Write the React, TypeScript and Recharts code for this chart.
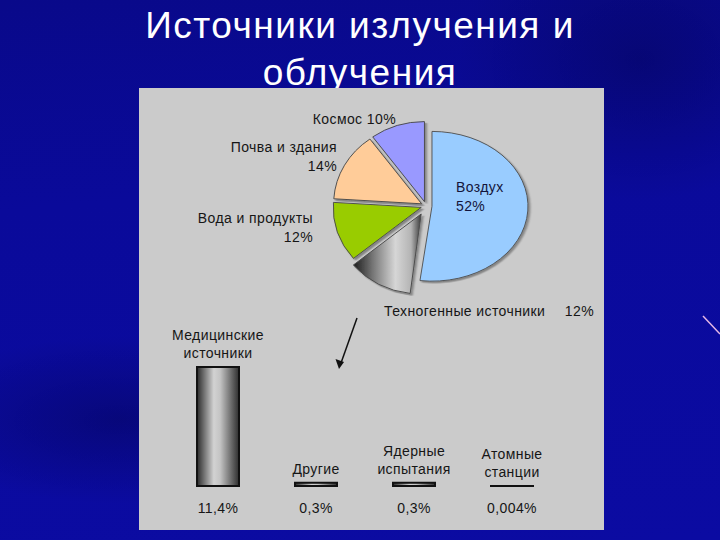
import { Bar, BarChart, Cell, LabelList, Pie, PieChart, Sector, Tooltip, XAxis, YAxis } from "recharts";

// pie: sources of exposure (clockwise from 12 o'clock)
const pieNames = ["Воздух", "Техногенные источники", "Вода и продукты", "Почва и здания", "Космос"];
const pieValues = [52, 12, 12, 14, 10];
const pieColors = ["#99ccff", "url(#techno)", "#99cc00", "#ffcc99", "#9999ff"];

// bars: breakdown of technogenic sources
const barNames = ["Медицинские\nисточники", "Другие", "Ядерные\nиспытания", "Атомные\nстанции"];
const barValues = [11.4, 0.3, 0.3, 0.004];
const barValueLabels = ["11,4%", "0,3%", "0,3%", "0,004%"];

const pieData = pieNames.map((name, i) => ({ name, value: pieValues[i] }));
const barData = barNames.map((name, i) => ({ name, value: barValues[i], label: barValueLabels[i] }));

const FONT = '"Liberation Sans", Arial, sans-serif';
const INK = "#161616";

// explode distance, vertical squash and radius scale per slice
const PULL = [6, 10, 5, 5, 5];
const SQUASH = [0.78, 0.91, 0.91, 0.91, 0.91];
const GROW = [96 / 88, 1, 1, 1, 1];

function sliceIndex(props: any) {
  const n = props?.payload?.name ?? props?.name;
  const i = pieNames.indexOf(n);
  return i < 0 ? 0 : i;
}

function Slice(props: any) {
  const { cx, cy, outerRadius, startAngle, endAngle, fill } = props;
  const i = sliceIndex(props);
  const mid = ((startAngle + endAngle) / 2) * (Math.PI / 180);
  const dx = PULL[i] * Math.cos(mid);
  const dy = -PULL[i] * Math.sin(mid);
  const s = SQUASH[i];
  return (
    <g transform={`translate(0 ${cy * (1 - s)}) scale(1 ${s})`} filter="url(#sliceShadow)">
      <Sector
        cx={cx + dx}
        cy={cy + dy}
        innerRadius={0}
        outerRadius={outerRadius * GROW[i]}
        startAngle={startAngle}
        endAngle={endAngle}
        fill={fill}
        stroke="#4a4a4a"
        strokeWidth={1}
      />
    </g>
  );
}

function PieLabel(props: any) {
  const { cx, cy, value } = props;
  const i = sliceIndex(props);
  const name = pieNames[i];
  const pct = `${value}%`;
  const common = { fontFamily: FONT, fontSize: 14, fill: INK, letterSpacing: 0.4 };
  if (i === 0)
    return (
      <text x={cx + 30} y={cy - 14} textAnchor="start" {...common} fill="#14143a">
        <tspan x={cx + 30}>{name}</tspan>
        <tspan x={cx + 30} dy={19}>{pct}</tspan>
      </text>
    );
  if (i === 1)
    return (
      <g>
        <text x={cx - 42} y={cy + 110} textAnchor="start" {...common}>{name}</text>
        <text x={cx + 168} y={cy + 110} textAnchor="end" {...common}>{pct}</text>
      </g>
    );
  if (i === 4)
    return (
      <text x={cx - 30} y={cy - 82} textAnchor="end" {...common}>{`${name} ${pct}`}</text>
    );
  const x = i === 2 ? cx - 113 : cx - 89;
  const y = i === 2 ? cy + 17 : cy - 54;
  return (
    <text x={x} y={y} textAnchor="end" {...common}>
      <tspan x={x}>{name}</tspan>
      <tspan x={x} dy={19}>{pct}</tspan>
    </text>
  );
}

function BarName(props: any) {
  const { x, y, width, value } = props;
  const lines = String(value).split("\n");
  return (
    <text textAnchor="middle" fontFamily={FONT} fontSize={14} fill={INK} letterSpacing={0.4}>
      {lines.map((l, k) => (
        <tspan key={k} x={x + width / 2} y={y - 9 - 18 * (lines.length - 1 - k)}>
          {l}
        </tspan>
      ))}
    </text>
  );
}

function ValueTick(props: any) {
  const { x, y, index } = props;
  return (
    <text x={x} y={y + 19} textAnchor="middle" fontFamily={FONT} fontSize={14} fill={INK} letterSpacing={0.4}>
      {barValueLabels[index]}
    </text>
  );
}

export default function App() {
  return (
    <div
      style={{
        position: "absolute",
        left: 0,
        top: 0,
        width: 720,
        height: 540,
        overflow: "hidden",
        background:
          "radial-gradient(ellipse 300px 120px at 120px 420px, rgba(0,0,40,0.3), rgba(0,0,40,0) 70%), radial-gradient(ellipse 260px 200px at 640px 60px, rgba(0,0,50,0.3), rgba(0,0,50,0) 70%), linear-gradient(175deg, #09098a 0%, #0a0a9a 35%, #0b0ba2 100%)",
      }}
    >
      <div
        style={{
          position: "absolute",
          left: 0,
          top: 0,
          width: 720,
          textAlign: "center",
          color: "#ffffff",
          fontFamily: FONT,
          fontSize: 37,
          letterSpacing: 1.5,
          lineHeight: "47px",
          paddingTop: 2,
        }}
      >
        <div>Источники излучения и</div>
        <div>облучения</div>
      </div>

      <div style={{ position: "absolute", left: 139, top: 88, width: 465, height: 442, background: "#cbcbcb" }} />

      <div style={{ position: "absolute", left: 0, top: 0 }}>
        <PieChart width={720} height={540}>
          <defs>
            <linearGradient id="techno" x1="0" x2="1" y1="0" y2="0">
              <stop offset="0%" stopColor="#1c1c1c" />
              <stop offset="30%" stopColor="#7a7a7a" />
              <stop offset="62%" stopColor="#d6d6d6" />
              <stop offset="85%" stopColor="#b4b4b4" />
              <stop offset="100%" stopColor="#3a3a3a" />
            </linearGradient>
            <filter id="sliceShadow" x="-20%" y="-20%" width="140%" height="140%">
              <feDropShadow dx="2" dy="2" stdDeviation="0.8" floodColor="#000" floodOpacity="0.35" />
            </filter>
          </defs>
          <Tooltip defaultIndex={0} content={() => null} cursor={false} />
          <Pie
            data={pieData}
            dataKey="value"
            nameKey="name"
            cx={421}
            cy={201}
            outerRadius={88}
            startAngle={90}
            endAngle={-270}
            stroke="#4a4a4a"
            labelLine={false}
            label={PieLabel}
            shape={Slice}
            activeShape={Slice}
            inactiveShape={Slice}
            isAnimationActive={false}
          >
            {pieData.map((d, i) => (
              <Cell key={d.name} fill={pieColors[i]} />
            ))}
          </Pie>
        </PieChart>
      </div>

      <div style={{ position: "absolute", left: 169, top: 300 }}>
        <BarChart width={392} height={230} data={barData} margin={{ top: 67, right: 0, bottom: 0, left: 0 }}>
          <defs>
            <linearGradient id="barGrad" x1="0" x2="1" y1="0" y2="0">
              <stop offset="0%" stopColor="#2a2a2a" />
              <stop offset="40%" stopColor="#d2d2d2" />
              <stop offset="55%" stopColor="#c4c4c4" />
              <stop offset="100%" stopColor="#2e2e2e" />
            </linearGradient>
          </defs>
          <XAxis dataKey="name" axisLine={false} tickLine={false} height={44} interval={0} tick={ValueTick} />
          <YAxis hide domain={[0, 11.4]} />
          <Bar dataKey="value" barSize={42} fill="url(#barGrad)" stroke="#111" strokeWidth={2} isAnimationActive={false}>
            <LabelList dataKey="name" content={BarName} />
          </Bar>
        </BarChart>
      </div>

      <svg width={720} height={540} style={{ position: "absolute", left: 0, top: 0, pointerEvents: "none" }}>
        <line x1={357} y1={318} x2={341} y2={363} stroke="#111" strokeWidth={1.5} />
        <polygon points="339,369 335.5,359 344,362" fill="#111" />
        <line x1={703} y1={316} x2={720} y2={334} stroke="#e6b8e6" strokeWidth={1.5} />
      </svg>
    </div>
  );
}
